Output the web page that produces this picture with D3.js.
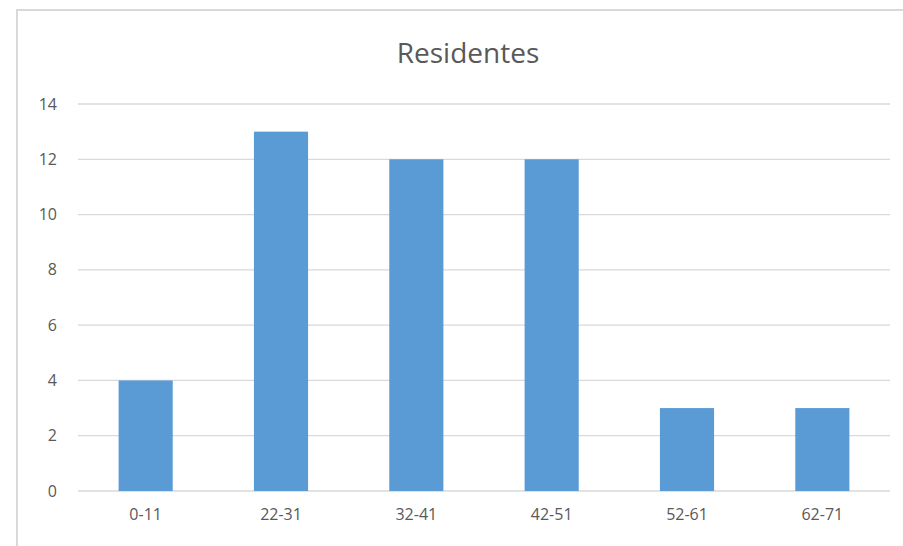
<!DOCTYPE html>
<html><head><meta charset="utf-8">
<script src="https://cdn.jsdelivr.net/npm/d3@7"></script>
<style>body{margin:0;background:#fff}svg{display:block}</style>
</head><body><svg id="c" width="903" height="546"></svg>
<script>
const categories = ["0-11","22-31","32-41","42-51","52-61","62-71"];
const values = [4,13,12,12,3,3];
const yTicks = [0,2,4,6,8,10,12,14];
const title = "Residentes";

const svg = d3.select("#c");
const W=903,H=546;
const m={l:78,r:13,t:104,b:55};
svg.append("rect").attr("x",17).attr("y",10).attr("width",900).attr("height",550)
  .attr("fill","#fff").attr("stroke","#d9d9d9").attr("stroke-width",2);

const x=d3.scaleBand().domain(categories).range([m.l,W-m.r]).paddingInner(0.6).paddingOuter(0.3);
const y=d3.scaleLinear().domain([0,14]).range([H-m.b,m.t]);

const g=svg.append("g");
g.selectAll("line.grid").data(yTicks).join("line").attr("class","grid")
  .attr("x1",m.l).attr("x2",W-m.r).attr("y1",d=>y(d)).attr("y2",d=>y(d))
  .attr("stroke","#d9d9d9").attr("stroke-width",1.3);

g.selectAll("rect.bar").data(values).join("rect").attr("class","bar")
  .attr("x",(d,i)=>x(categories[i])).attr("width",x.bandwidth())
  .attr("y",d=>y(d)).attr("height",d=>y(0)-y(d)).attr("fill","#5b9bd5");

const yAxis=d3.axisLeft(y).tickValues(yTicks).tickSize(0).tickPadding(0);
const ya=svg.append("g").attr("transform",`translate(57,0)`).call(yAxis);
ya.select(".domain").remove();
ya.selectAll("text").attr("font-family","Open Sans, sans-serif").attr("font-size",16).attr("fill","#595959");

const xAxis=d3.axisBottom(x).tickSize(0).tickPadding(0);
const xa=svg.append("g").attr("transform",`translate(0,${H-m.b+18})`).call(xAxis);
xa.select(".domain").remove();
xa.selectAll("text").attr("font-family","Open Sans, sans-serif").attr("font-size",16).attr("fill","#595959");

svg.append("text").attr("x",468).attr("y",63).attr("text-anchor","middle")
  .attr("font-family","Open Sans, sans-serif").attr("font-size",28).attr("fill","#595959").text(title);
</script></body></html>
